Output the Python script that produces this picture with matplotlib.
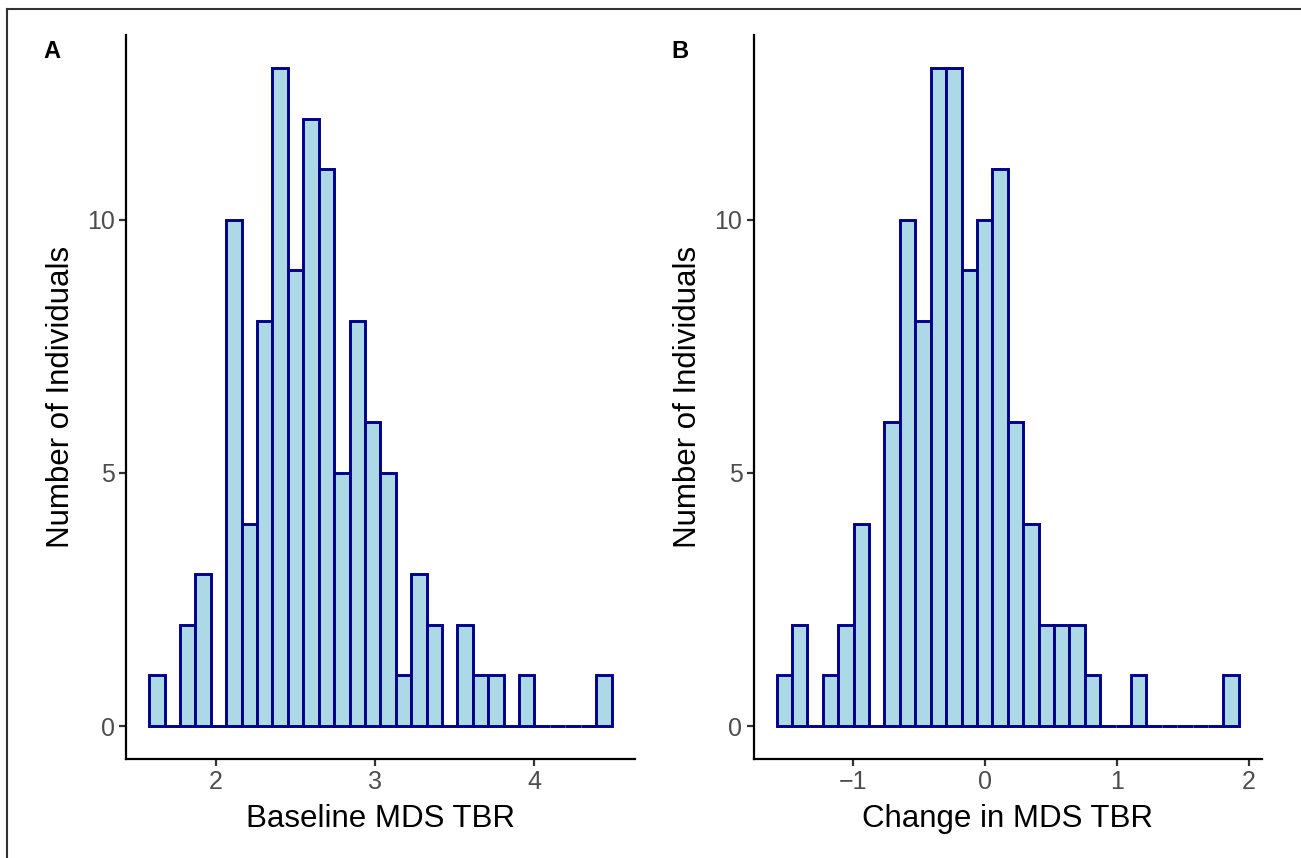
import numpy as np
from matplotlib import pyplot as plt
from matplotlib.lines import Line2D

## Dati (30 bin per pannello)

conteggi_baseline = [1, 0, 2, 3, 0, 10, 4, 8, 13, 9, 12, 11, 5, 8, 6,
                     5, 1, 3, 2, 0, 2, 1, 1, 0, 1, 0, 0, 0, 0, 1]
range_baseline = (1.583, 4.487)

conteggi_change = [1, 2, 0, 1, 2, 4, 0, 6, 10, 8, 13, 13, 9, 10, 11,
                   6, 4, 2, 2, 2, 1, 0, 0, 1, 0, 0, 0, 0, 0, 1]
range_change = (-1.577, 1.923)

xticks_baseline = [2, 3, 4]
xticks_change = [-1, 0, 1, 2]
yticks = [0, 5, 10]

## Stile

plt.rcParams['font.family'] = ['Liberation Sans', 'DejaVu Sans']
riempimento = '#ADD8E6'   # lightblue
bordo = '#00008B'         # darkblue

fig = plt.figure(figsize=(13.01, 8.58), dpi=100)

pannelli = [
    ("A", conteggi_baseline, range_baseline, xticks_baseline, "Baseline MDS TBR",
     [0.0969, 0.1154, 0.3909, 0.8438], 52),
    ("B", conteggi_change, range_change, xticks_change, "Change in MDS TBR",
     [0.5792, 0.1154, 0.3908, 0.8438], 680),
]

for lettera, conteggi, rng, xt, xlab, pos, xlett in pannelli:
    ax = fig.add_axes(pos)
    conteggi = np.array(conteggi)
    bordi = np.linspace(rng[0], rng[1], len(conteggi) + 1)
    larghezza = bordi[1] - bordi[0]
    ax.bar(bordi[:-1], conteggi, width=larghezza, align='edge',
           color=riempimento, edgecolor=bordo, linewidth=2.1)

    # espansione stile ggplot (5%)
    span = rng[1] - rng[0]
    ax.set_xlim(rng[0] - 0.05 * span, rng[1] + 0.05 * span)
    ymax = conteggi.max()
    ax.set_ylim(-0.05 * ymax, 1.05 * ymax)

    ax.set_xticks(xt)
    ax.set_yticks(yticks)
    for s in ['top', 'right']:
        ax.spines[s].set_visible(False)
    for s in ['left', 'bottom']:
        ax.spines[s].set_linewidth(1.6)
        ax.spines[s].set_color('black')
    ax.tick_params(length=5, width=1.6, color='#333333', labelcolor='#4D4D4D',
                   labelsize=18, pad=3)
    ax.set_xlabel(xlab, fontsize=22.5, labelpad=7)
    ax.set_ylabel("Number of Individuals", fontsize=22.5, labelpad=8)

    fig.text(xlett / 1301, 1 - 52 / 858, lettera, fontsize=17, fontweight='bold',
             ha='center', va='center')

## Bordo della figura (solo sopra e a sinistra, come nell'originale)

fig.add_artist(Line2D([7 / 1301, 1], [1 - 9 / 858, 1 - 9 / 858],
                      transform=fig.transFigure, color='#333333', linewidth=1.5))
fig.add_artist(Line2D([7 / 1301, 7 / 1301], [0, 1 - 9 / 858],
                      transform=fig.transFigure, color='#333333', linewidth=1.5))

plt.savefig("out.png", dpi=100)
